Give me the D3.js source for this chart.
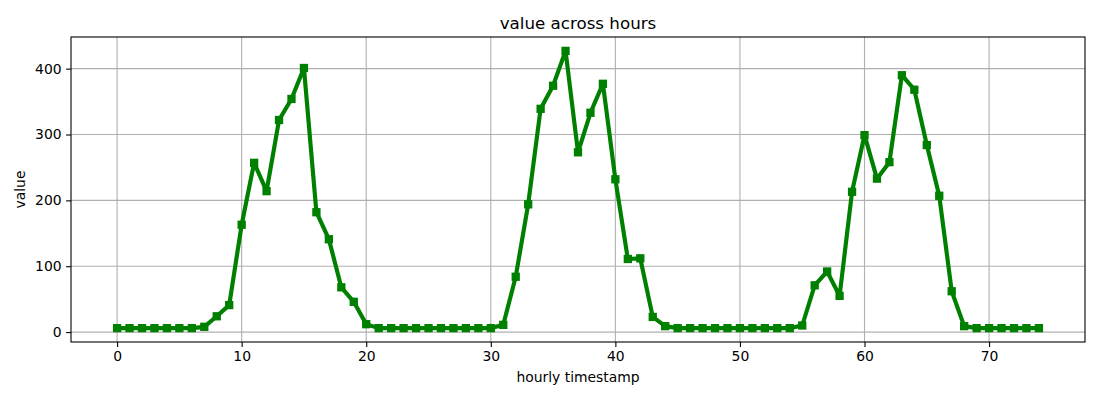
<!DOCTYPE html>
<html>
<head>
<meta charset="utf-8">
<script src="https://cdn.jsdelivr.net/npm/d3@7"></script>
<style>
  body { margin: 0; background: #fff; }
  svg { font-family: "DejaVu Sans", sans-serif; }
</style>
</head>
<body>
<svg id="chart" width="1100" height="400"></svg>
<script>
const hours = d3.range(0, 75);
const values = [
  6, 6, 6, 6, 6, 6, 6, 8, 24, 41,
  163, 257, 214, 322, 354, 401, 182, 141, 68, 46,
  12, 6, 6, 6, 6, 6, 6, 6, 6, 6,
  6, 11, 84, 194, 339, 374, 427, 273, 333, 377,
  232, 111, 112, 23, 9, 6, 6, 6, 6, 6,
  6, 6, 6, 6, 6, 10, 71, 92, 55, 213,
  299, 233, 258, 390, 368, 284, 207, 62, 9, 6,
  6, 6, 6, 6, 6
];
const xTicks = [0, 10, 20, 30, 40, 50, 60, 70];
const yTicks = [0, 100, 200, 300, 400];
const title = "value across hours";
const xLabel = "hourly timestamp";
const yLabel = "value";

const svg = d3.select("#chart");
const m = { left: 71, right: 1085, top: 37, bottom: 342 };

const xmin = d3.min(hours), xmax = d3.max(hours);
const xpad = (xmax - xmin) * 0.05;
const ymin = d3.min(values), ymax = d3.max(values);
const ypad = (ymax - ymin) * 0.05;

const x = d3.scaleLinear().domain([xmin - xpad, xmax + xpad]).range([m.left, m.right]);
const y = d3.scaleLinear().domain([ymin - ypad, ymax + ypad]).range([m.bottom, m.top]);

// grid
const g = svg.append("g");
g.selectAll(".vg").data(xTicks).enter().append("line")
  .attr("x1", d => x(d)).attr("x2", d => x(d))
  .attr("y1", m.top).attr("y2", m.bottom)
  .attr("stroke", "#b0b0b0").attr("stroke-width", 1.1);
g.selectAll(".hg").data(yTicks).enter().append("line")
  .attr("y1", d => y(d)).attr("y2", d => y(d))
  .attr("x1", m.left).attr("x2", m.right)
  .attr("stroke", "#b0b0b0").attr("stroke-width", 1.1);

// line
const line = d3.line().x((d, i) => x(hours[i])).y(d => y(d));
svg.append("path").datum(values)
  .attr("d", line)
  .attr("fill", "none")
  .attr("stroke", "#008000")
  .attr("stroke-width", 4.17)
  .attr("stroke-linejoin", "round")
  .attr("stroke-linecap", "butt");

// markers
const ms = 8.3;
svg.selectAll(".mk").data(values).enter().append("rect")
  .attr("x", (d, i) => x(hours[i]) - ms / 2)
  .attr("y", d => y(d) - ms / 2)
  .attr("width", ms).attr("height", ms)
  .attr("fill", "#008000");

// axes
const xAxis = d3.axisBottom(x).tickValues(xTicks).tickSize(4.9).tickPadding(4.5).tickFormat(d3.format("d"));
const yAxis = d3.axisLeft(y).tickValues(yTicks).tickSize(4.9).tickPadding(4.5).tickFormat(d3.format("d"));

const gx = svg.append("g").attr("transform", `translate(0,${m.bottom})`).call(xAxis);
const gy = svg.append("g").attr("transform", `translate(${m.left},0)`).call(yAxis);
[gx, gy].forEach(a => {
  a.select(".domain").remove();
  a.selectAll("line").attr("stroke", "#000").attr("stroke-width", 1.1);
  a.selectAll("text").attr("fill", "#000").style("font-size", "13.9px")
   .style("font-family", "DejaVu Sans, sans-serif");
});

// frame
svg.append("rect")
  .attr("x", m.left).attr("y", m.top)
  .attr("width", m.right - m.left).attr("height", m.bottom - m.top)
  .attr("fill", "none").attr("stroke", "#000").attr("stroke-width", 1.1);

// labels
svg.append("text").attr("x", (m.left + m.right) / 2).attr("y", 29)
  .attr("text-anchor", "middle").style("font-size", "16.7px").text(title);
svg.append("text").attr("x", (m.left + m.right) / 2).attr("y", 382)
  .attr("text-anchor", "middle").style("font-size", "13.9px").text(xLabel);
svg.append("text").attr("transform", `translate(25,${(m.top + m.bottom) / 2}) rotate(-90)`)
  .attr("text-anchor", "middle").style("font-size", "13.9px").text(yLabel);
</script>
</body>
</html>
